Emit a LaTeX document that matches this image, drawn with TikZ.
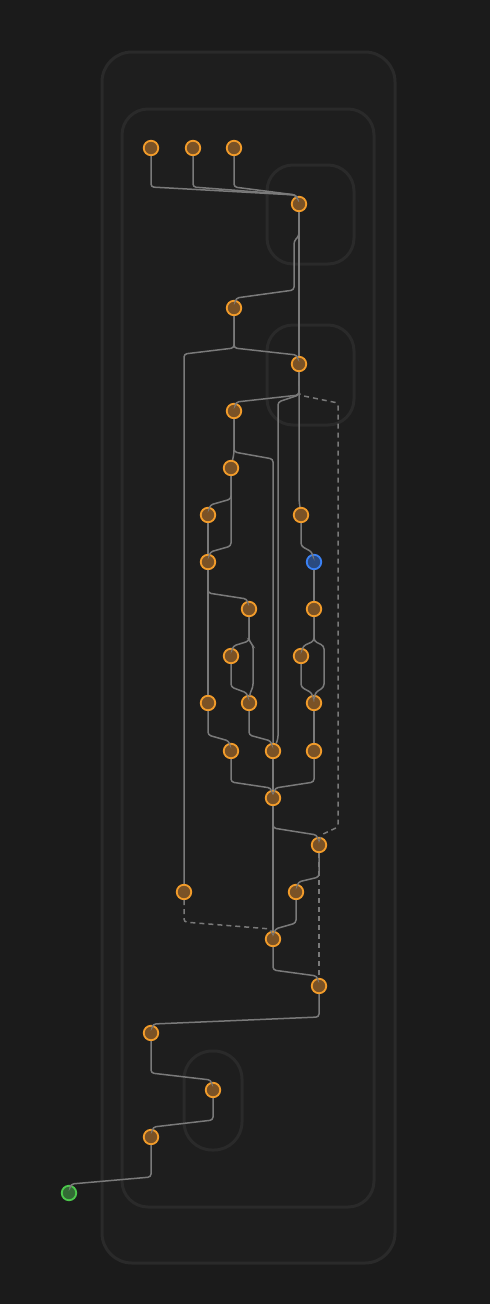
\documentclass[tikz,border=0pt]{standalone}
\usetikzlibrary{calc}
\definecolor{bgc}{HTML}{1B1B1B}
\definecolor{boxfill}{HTML}{1E1E1E}
\definecolor{boxline}{HTML}{2A2A2A}
\definecolor{edgec}{HTML}{7A7A7A}
\definecolor{orst}{HTML}{F39C2A}
\definecolor{orfi}{HTML}{7A5226}
\definecolor{blst}{HTML}{3B82F6}
\definecolor{blfi}{HTML}{2A4A80}
\definecolor{grst}{HTML}{4CC94C}
\definecolor{grfi}{HTML}{336B35}
\tikzset{
  grp/.style={draw=boxline, line width=3pt},
  op/.style={circle, draw=orst, fill=orfi, line width=1.8pt, minimum size=14.5pt, inner sep=0pt},
  opblue/.style={op, draw=blst, fill=blfi},
  opgreen/.style={op, draw=grst, fill=grfi},
  edge/.style={draw=edgec, line width=1.5pt, rounded corners=3pt},
  dedge/.style={edge, dash pattern=on 5pt off 4pt},
}
\begin{document}
\begin{tikzpicture}[x=1pt,y=-1pt]
\useasboundingbox (0,0) rectangle (490,1304);
\fill[bgc] (0,0) rectangle (490,1304);
% groups
\draw[grp, fill=boxfill, rounded corners=30pt] (102,52) rectangle (395,1263);
\draw[grp, fill=boxfill, rounded corners=26pt] (122,109) rectangle (374,1207);
\draw[grp, rounded corners=26pt] (267,165) rectangle (354,264);
\draw[grp, rounded corners=26pt] (267,325) rectangle (354,425);
\draw[grp, rounded corners=28pt] (184,1051) rectangle (242,1150);
% nodes
\node[op] (n1) at (151,148) {};
\node[op] (n2) at (193,148) {};
\node[op] (n3) at (234,148) {};
\node[op] (n4) at (299,204) {};
\node[op] (n5) at (234,308) {};
\node[op] (n6) at (299,364) {};
\node[op] (n7) at (234,411) {};
\node[op] (n8) at (231,468) {};
\node[op] (n9) at (208,515) {};
\node[op] (n10) at (301,515) {};
\node[op] (n11) at (208,562) {};
\node[opblue] (nb) at (314,562) {};
\node[op] (n12) at (249,609) {};
\node[op] (n13) at (314,609) {};
\node[op] (n14) at (231,656) {};
\node[op] (n15) at (301,656) {};
\node[op] (n16) at (208,703) {};
\node[op] (n17) at (249,703) {};
\node[op] (n18) at (314,703) {};
\node[op] (n19) at (231,751) {};
\node[op] (n20) at (273,751) {};
\node[op] (n21) at (314,751) {};
\node[op] (n22) at (273,798) {};
\node[op] (n23) at (319,845) {};
\node[op] (n24) at (184,892) {};
\node[op] (n25) at (296,892) {};
\node[op] (n26) at (273,939) {};
\node[op] (n27) at (319,986) {};
\node[op] (n28) at (151,1033) {};
\node[op] (n29) at (213,1090) {};
\node[op] (n30) at (151,1137) {};
\node[opgreen] (ng) at (69,1193) {};
% edges
\draw[edge] (n1) -- (151,187) -- (296,195) -- (n4);
\draw[edge] (n2) -- (193,187) -- (296,195) -- (n4);
\draw[edge] (n3) -- (234,187) -- (296,195) -- (n4);
\draw[edge] (n4) -- (299,236) -- (294,241) -- (294,290) -- (236,298) -- (n5);
\draw[edge] (n4) -- (n6);
\draw[edge] (n5) -- (234,348) -- (297,355) -- (n6);
\draw[edge] (n5) -- (234,348) -- (184,354) -- (n24);
\draw[edge] (n6) -- (299,395) -- (236,402) -- (n7);
\draw[edge] (n6) -- (299,395) -- (278,402) -- (278,739) -- (n20);
\draw[dedge] (n6) -- (299,395) -- (338,403) -- (338,827) -- (321,835) -- (n23);
\draw[edge] (n6) -- (299,500) -- (n10);
\draw[edge] (n7) -- (234,453) -- (n8);
\draw[edge] (n7) -- (234,452) -- (273,459) -- (n20);
\draw[edge] (n8) -- (231,499) -- (210,505) -- (n9);
\draw[edge] (n8) -- (231,546) -- (210,552) -- (n11);
\draw[edge] (n9) -- (n11);
\draw[edge] (n10) -- (301,546) -- (312,552) -- (nb);
\draw[edge] (nb) -- (n13);
\draw[edge] (n11) -- (208,593) -- (247,599) -- (n12);
\draw[edge] (n11) -- (n16);
\draw[edge] (n12) -- (249,641) -- (233,646) -- (n14);
\draw[edge] (n12) -- (249,641) -- (253,645) -- (253,687) -- (250,693) -- (n17);
\draw[edge] (n14) -- (231,687) -- (247,693) -- (n17);
\draw[edge] (n13) -- (314,641) -- (303,646) -- (n15);
\draw[edge] (n13) -- (314,641) -- (324,646) -- (324,687) -- (315,693) -- (n18);
\draw[edge] (n15) -- (301,687) -- (312,693) -- (n18);
\draw[edge] (n16) -- (208,735) -- (229,741) -- (n19);
\draw[edge] (n17) -- (249,735) -- (271,741) -- (n20);
\draw[edge] (n18) -- (n21);
\draw[edge] (n19) -- (231,782) -- (271,788) -- (n22);
\draw[edge] (n20) -- (n22);
\draw[edge] (n21) -- (314,782) -- (275,788) -- (n22);
\draw[edge] (n22) -- (273,828) -- (317,835) -- (n23);
\draw[edge] (n22) -- (n26);
\draw[edge] (n23) -- (319,877) -- (298,882) -- (n25);
\draw[dedge] (n23) -- (n27);
\draw[dedge] (n24) -- (184,922) -- (271,929) -- (n26);
\draw[edge] (n25) -- (296,923) -- (275,929) -- (n26);
\draw[edge] (n26) -- (273,970) -- (317,976) -- (n27);
\draw[edge] (n27) -- (319,1017) -- (153,1024) -- (n28);
\draw[edge] (n28) -- (151,1073) -- (211,1080) -- (n29);
\draw[edge] (n29) -- (213,1120) -- (153,1127) -- (n30);
\draw[edge] (n30) -- (151,1177) -- (71,1184) -- (ng);
\end{tikzpicture}
\end{document}
